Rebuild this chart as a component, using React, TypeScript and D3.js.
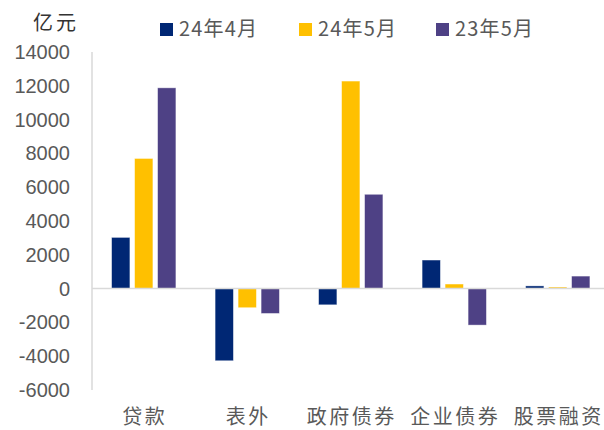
import React from "react";
import * as d3 from "d3";

const categories = ["贷款", "表外", "政府债券", "企业债券", "股票融资"];
const seriesNames = ["24年4月", "24年5月", "23年5月"];
const apr24 = [3030, -4270, -960, 1690, 160];
const may24 = [7700, -1130, 12280, 270, 90];
const may23 = [11880, -1470, 5580, -2160, 740];
const colors = ["#002774", "#FFC000", "#4E4185"];
const yTicks = [-6000, -4000, -2000, 0, 2000, 4000, 6000, 8000, 10000, 12000, 14000];

const W = 604;
const H = 430;

export default function App() {
  const series = [apr24, may24, may23];
  const x = d3.scaleBand<string>().domain(categories).range([92, 609.5]).padding(0);
  const y = d3.scaleLinear().domain([-6000, 14000]).range([390, 52]);
  const bw = x.bandwidth();
  const barW = bw * (18.3 / 103.5);
  const step = bw * (23 / 103.5);
  const textColor = "#595959";
  const sans = "'Liberation Sans', Arial, sans-serif";
  const cjk = "'Noto Sans CJK SC', sans-serif";
  const legendX = [160, 299, 436];

  return (
    <svg width={W} height={H} style={{ position: "absolute", left: 0, top: 0, background: "#fff" }}>
      <rect x={0} y={0} width={W} height={H} fill="#fff" />
      {/* axes */}
      <line x1={92} x2={92} y1={y(14000)} y2={y(-6000)} stroke="#D9D9D9" strokeWidth={1.5} />
      {yTicks.map((t) => (
        <text key={t} x={70} y={y(t)} dy="0.35em" textAnchor="end" fontFamily={sans} fontSize={20} fill={textColor}>
          {t}
        </text>
      ))}
      {/* bars */}
      {series.map((vals, si) =>
        vals.map((v, ci) => {
          const cx = (x(categories[ci]) as number) + bw / 2 + (si - 1) * step;
          const y0 = y(0);
          const yv = y(v);
          return (
            <rect
              key={`${si}-${ci}`}
              x={cx - barW / 2}
              y={Math.min(y0, yv)}
              width={barW}
              height={Math.abs(yv - y0)}
              fill={colors[si]}
              stroke="#ffffff"
              strokeOpacity={0.5}
              strokeWidth={0.8}
            />
          );
        })
      )}
      <line x1={92} x2={W} y1={y(0)} y2={y(0)} stroke="#D9D9D9" strokeWidth={1.5} />
      {/* category labels */}
      {categories.map((c) => (
        <text
          key={c}
          x={(x(c) as number) + bw / 2 + 1}
          y={417}
          dy="0.35em"
          textAnchor="middle"
          fontFamily={cjk}
          fontSize={20}
          letterSpacing={2.5}
          fill={textColor}
        >
          {c}
        </text>
      ))}
      {/* unit */}
      <text x={33} y={23} dy="0.35em" fontFamily={cjk} fontSize={20} letterSpacing={3} fill="#333">
        亿元
      </text>
      {/* legend */}
      {seriesNames.map((n, i) => (
        <g key={n}>
          <rect x={legendX[i]} y={23} width={13} height={13} fill={colors[i]} />
          <text x={legendX[i] + 19} y={29} dy="0.35em" fontFamily={cjk} fontSize={20} letterSpacing={1.2} fill={textColor}>
            {n}
          </text>
        </g>
      ))}
    </svg>
  );
}
